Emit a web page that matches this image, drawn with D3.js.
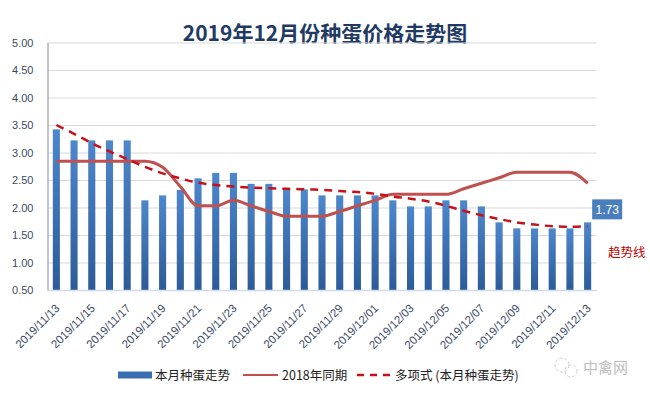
<!DOCTYPE html>
<html>
<head>
<meta charset="utf-8">
<script src="https://cdn.jsdelivr.net/npm/d3@7"></script>
<style>
  body { margin: 0; background: #fff; }
  svg { font-family: "Liberation Sans", Arial, sans-serif; }
</style>
</head>
<body>
<div id="chart"></div>
<script>
// Data
const dates = ["2019/11/13","2019/11/14","2019/11/15","2019/11/16","2019/11/17","2019/11/18","2019/11/19",
  "2019/11/20","2019/11/21","2019/11/22","2019/11/23","2019/11/24","2019/11/25","2019/11/26","2019/11/27",
  "2019/11/28","2019/11/29","2019/11/30","2019/12/01","2019/12/02","2019/12/03","2019/12/04","2019/12/05",
  "2019/12/06","2019/12/07","2019/12/08","2019/12/09","2019/12/10","2019/12/11","2019/12/12","2019/12/13"];
const thisMonth = [3.42, 3.22, 3.22, 3.22, 3.22, 2.13, 2.22, 2.32, 2.53, 2.63, 2.63, 2.43, 2.43, 2.33, 2.33, 2.22,
  2.22, 2.22, 2.22, 2.13, 2.02, 2.02, 2.13, 2.13, 2.02, 1.73, 1.62, 1.62, 1.62, 1.62, 1.73];
const lastYear = [2.84, 2.84, 2.84, 2.84, 2.84, 2.84, 2.73, 2.38, 2.03, 2.03, 2.13, 2.03, 1.93, 1.84, 1.84, 1.84,
  1.93, 2.03, 2.13, 2.24, 2.24, 2.24, 2.24, 2.34, 2.44, 2.54, 2.64, 2.64, 2.64, 2.64, 2.44];
const trend = [3.50, 3.34, 3.17, 3.02, 2.88, 2.74, 2.62, 2.53, 2.45, 2.41, 2.38, 2.36, 2.35, 2.34, 2.33, 2.32,
  2.30, 2.28, 2.25, 2.20, 2.16, 2.11, 2.03, 1.94, 1.86, 1.79, 1.73, 1.69, 1.66, 1.65, 1.66];
const yTicks = [0.5, 1, 1.5, 2, 2.5, 3, 3.5, 4, 4.5, 5];
const legendNames = ["本月种蛋走势", "2018年同期", "多项式 (本月种蛋走势)"];

const W = 650, H = 396;
const plot = { left: 47.5, right: 596.5, top: 42.5, bottom: 290 };

const svg = d3.select("#chart").append("svg")
    .attr("width", W).attr("height", H);

// bar gradient
const defs = svg.append("defs");
const grad = defs.append("linearGradient").attr("id", "barGrad")
    .attr("x1", 0).attr("y1", 0).attr("x2", 0).attr("y2", 1);
grad.append("stop").attr("offset", "0%").attr("stop-color", "#4d87cc");
grad.append("stop").attr("offset", "100%").attr("stop-color", "#2c5b98");

// scales
const x = d3.scaleBand()
    .domain(dates)
    .range([plot.left, plot.right])
    .paddingInner(0.6)
    .paddingOuter(0.3);

const y = d3.scaleLinear()
    .domain([0.5, 5])
    .range([plot.bottom, plot.top]);

const cx = d => x(d) + x.bandwidth() / 2;

// title
svg.append("text")
    .attr("x", 325).attr("y", 41)
    .attr("text-anchor", "middle")
    .style("font-family", "'Noto Sans CJK SC', sans-serif")
    .style("font-weight", "bold")
    .style("font-size", "21px")
    .attr("fill", "#1f3b64")
    .text("2019年12月份种蛋价格走势图");

// horizontal gridlines
svg.append("g")
    .attr("transform", `translate(${plot.left},0)`)
    .call(d3.axisLeft(y).tickValues(yTicks.slice(1)).tickSize(-(plot.right - plot.left)).tickFormat(""))
    .call(g => g.select(".domain").remove())
    .call(g => g.selectAll("line").attr("stroke", "#d9d9d9"));

// y axis labels
const yAxis = svg.append("g")
    .attr("transform", `translate(${plot.left},0)`)
    .call(d3.axisLeft(y).tickValues(yTicks).tickFormat(d3.format(".2f")).tickSize(0).tickPadding(14));
yAxis.select(".domain").attr("stroke", "#8c8c8c");
yAxis.selectAll("text")
    .attr("fill", "#3b4a5e")
    .style("font-size", "11px");

// bars
svg.selectAll(".bar")
    .data(dates)
    .enter()
    .append("rect")
    .attr("class", "bar")
    .attr("x", d => x(d))
    .attr("y", (d, i) => y(thisMonth[i]))
    .attr("width", x.bandwidth())
    .attr("height", (d, i) => plot.bottom - y(thisMonth[i]))
    .attr("fill", "url(#barGrad)");

// x axis baseline
const xAxis = svg.append("g")
    .attr("transform", `translate(0,${plot.bottom})`)
    .call(d3.axisBottom(x).tickValues(dates.filter((d, i) => i % 2 === 0)).tickSize(0));
xAxis.select(".domain").attr("stroke", "#cfdcee").attr("stroke-width", 1.5);
xAxis.selectAll("text")
    .attr("fill", "#3a4a66")
    .style("font-size", "11.5px")
    .attr("text-anchor", "end")
    .attr("dy", null)
    .attr("y", 0)
    .attr("transform", "translate(4,19) rotate(-45)");

// 2018 line
const line2018 = d3.line()
    .x((d, i) => cx(dates[i]))
    .y(d => y(d))
    .curve(d3.curveMonotoneX);

svg.append("path")
    .datum(lastYear)
    .attr("d", line2018)
    .attr("fill", "none")
    .attr("stroke", "#bf504d")
    .attr("stroke-width", 3);

// polynomial trend
const trendLine = d3.line()
    .x((d, i) => cx(dates[i]))
    .y(d => y(d))
    .curve(d3.curveCatmullRom);

svg.append("path")
    .datum(trend)
    .attr("d", trendLine)
    .attr("fill", "none")
    .attr("stroke", "#c8101a")
    .attr("stroke-width", 2.5)
    .attr("stroke-dasharray", "8,6");

// data label of last bar
const lastI = dates.length - 1;
const lx = x(dates[lastI]) + x.bandwidth() + 1;
const ly = y(thisMonth[lastI]) - 23;
svg.append("rect")
    .attr("x", lx).attr("y", ly)
    .attr("width", 30).attr("height", 20)
    .attr("fill", "#4a7ebd");
svg.append("text")
    .attr("x", lx + 15).attr("y", ly + 14.5)
    .attr("text-anchor", "middle")
    .attr("fill", "#fff")
    .style("font-size", "12px")
    .text(thisMonth[lastI].toFixed(2));

// trend label
svg.append("text")
    .attr("x", 608).attr("y", 257)
    .attr("fill", "#c00000")
    .style("font-family", "'Noto Sans CJK SC', sans-serif")
    .style("font-size", "12.5px")
    .text("趋势线");

// legend
const legend = svg.append("g").attr("transform", "translate(0,375)");
legend.append("rect").attr("x", 118).attr("y", -3.5).attr("width", 34).attr("height", 7).attr("fill", "#3a6eb2");
legend.append("line").attr("x1", 243).attr("x2", 278).attr("y1", 0).attr("y2", 0)
    .attr("stroke", "#bf504d").attr("stroke-width", 2);
legend.append("line").attr("x1", 357).attr("x2", 392).attr("y1", 0).attr("y2", 0)
    .attr("stroke", "#c8101a").attr("stroke-width", 2.5).attr("stroke-dasharray", "7,6");
[155, 282, 395].forEach((lxp, i) => {
    legend.append("text")
        .attr("x", lxp).attr("y", 4.5)
        .attr("fill", "#222")
        .style("font-family", "'Noto Sans CJK SC', sans-serif")
        .style("font-size", "12.5px")
        .text(legendNames[i]);
});

// watermark
const wm = svg.append("g").attr("transform", "translate(0,367)").attr("opacity", 0.55);
wm.append("circle").attr("cx", 562).attr("cy", -2).attr("r", 7).attr("fill", "none").attr("stroke", "#aaa").attr("stroke-dasharray", "3,2");
wm.append("circle").attr("cx", 571).attr("cy", 4).attr("r", 6).attr("fill", "none").attr("stroke", "#aaa").attr("stroke-dasharray", "3,2");
wm.append("text")
    .attr("x", 583).attr("y", 6)
    .attr("fill", "#888")
    .style("font-family", "'Noto Sans CJK SC', sans-serif")
    .style("font-size", "15px")
    .text("中禽网");
</script>
</body>
</html>
